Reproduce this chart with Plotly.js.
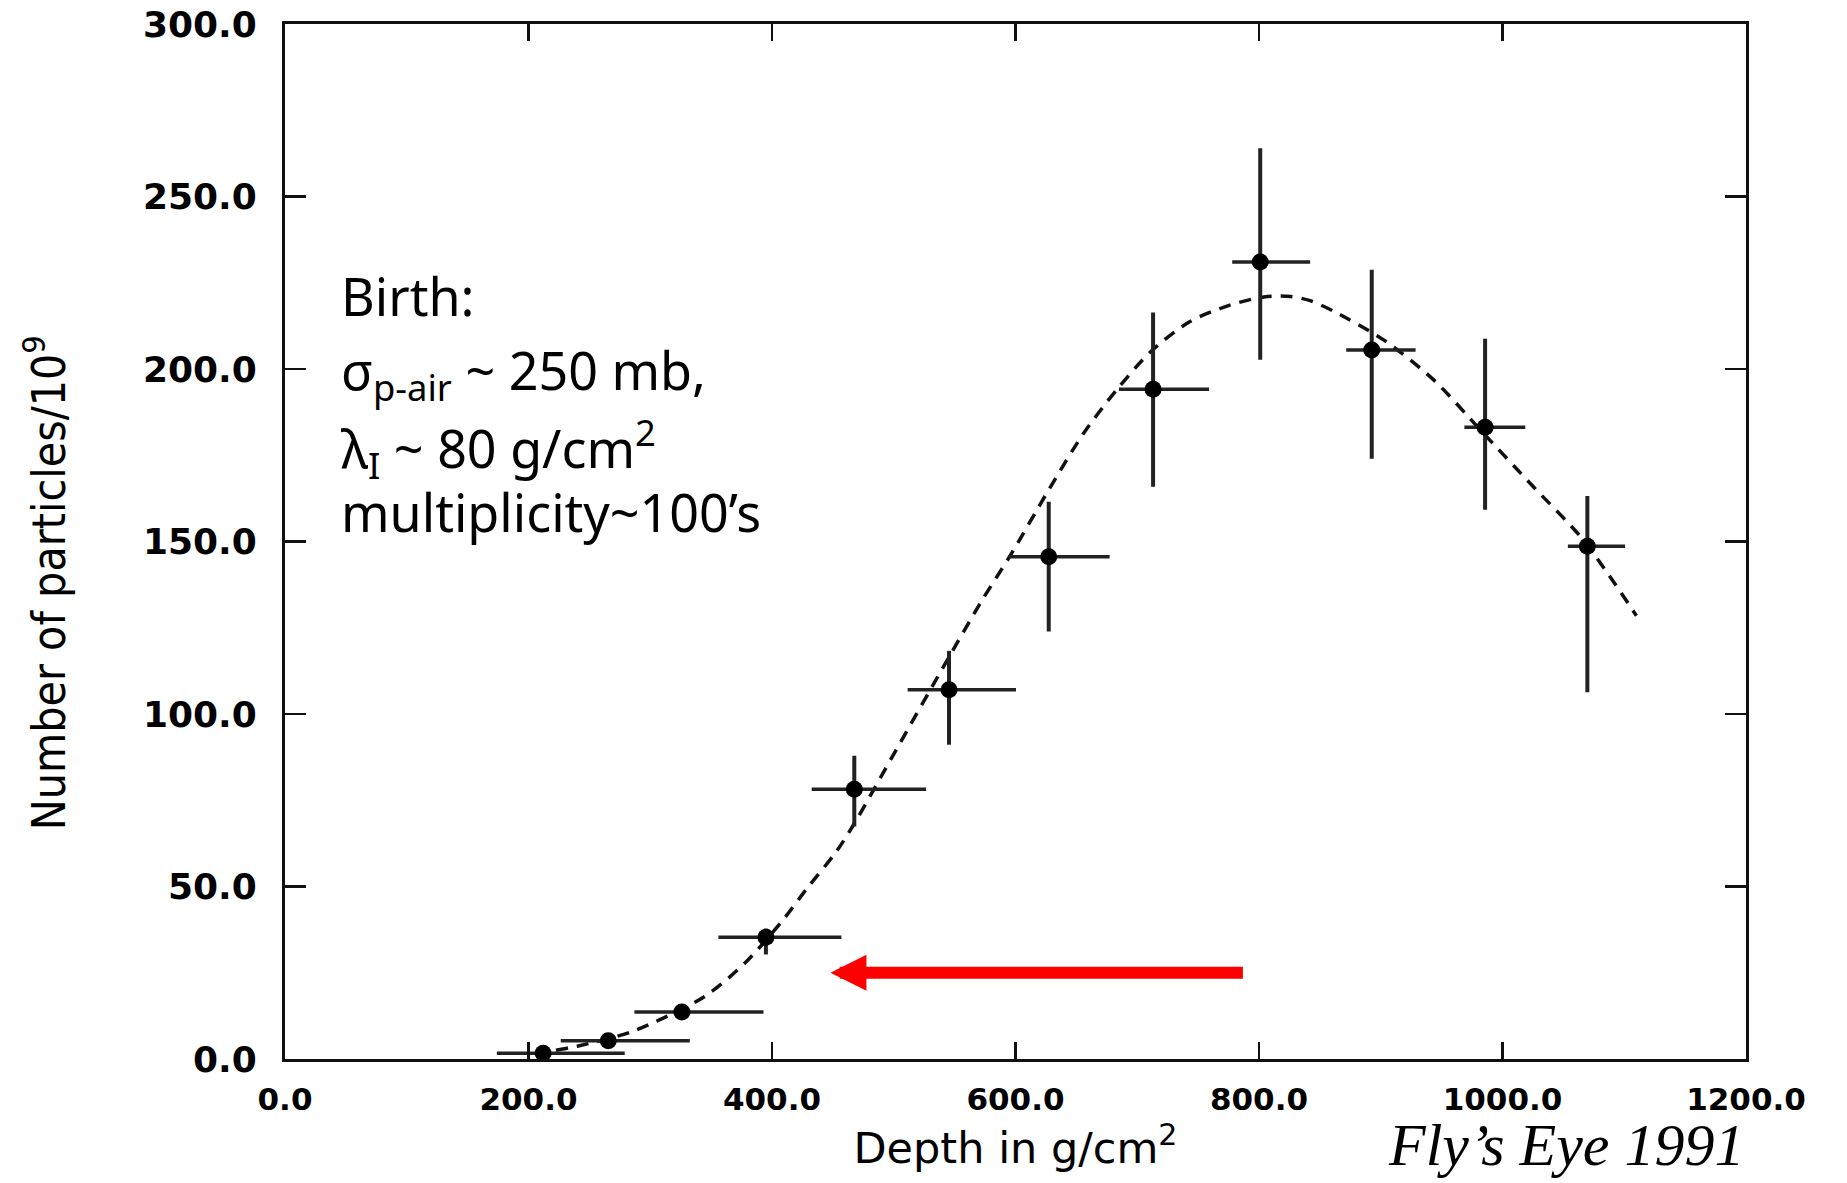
<!DOCTYPE html>
<html>
<head>
<meta charset="utf-8">
<script src="https://cdn.plot.ly/plotly-3.0.1.min.js"></script>
<style>
  html, body { margin: 0; padding: 0; background: #ffffff; }
  #chart { width: 1847px; height: 1183px; }
</style>
</head>
<body>
<div id="chart"></div>
<script>
// Measured data points (Fly's Eye 1991 shower profile)
const depth = [212, 265.5, 326, 395, 467.6, 545.4, 627.3, 713, 801, 892.6, 985.7, 1069.7];
const particles = [1.7, 5.3, 13.6, 35.3, 78.2, 107.0, 145.6, 194.1, 231.0, 205.5, 183.1, 148.6];
const depthErrPlus = [67, 67, 67, 62, 59, 55, 50, 46, 41, 36, 33, 31];
const depthErrMinus = [38, 39, 39, 39, 35, 34, 33, 28, 23, 21, 17, 16];
const partErrPlus = [0.8, 1, 1.5, 2.5, 9.7, 11.3, 15.9, 22.3, 33.0, 23.3, 25.7, 14.6];
const partErrMinus = [0.8, 1, 1.5, 5, 10.8, 15.9, 21.7, 28.2, 28.3, 31.5, 23.9, 42.3];

// Dashed fit curve
const fitDepth = [206, 219, 240, 286, 345, 378, 407, 428, 453, 467, 502, 541, 571, 596, 628, 656, 683, 711, 743, 776, 804, 826, 842, 861, 902, 943, 984, 1025, 1066, 1110];
const fitParticles = [1.0, 2.3, 3.7, 8.1, 18.2, 27.9, 39.4, 49.1, 60.2, 67.9, 89.6, 113.8, 132.1, 146.1, 165.4, 181.4, 193.9, 205.0, 213.7, 218.5, 220.9, 221.0, 219.8, 216.8, 208.5, 197.0, 181.5, 166.0, 150.6, 128.5];

// Red arrow (data coordinates)
const arrowTip = [448, 25];
const arrowTail = [788, 25];

const xTitle = 'Depth in g/cm<sup>2</sup>';
const yTitle = 'Number of particles/10<sup>9</sup>';
const creditText = '<i>Fly’s Eye 1991</i>';

const textLines = [
  "Birth:",
  "σ<sub>p-air</sub> ~ 250 mb,",
  "λ<sub>I</sub> ~ 80 g/cm<sup>2</sup>",
  "multiplicity~100’s"
];
const textLineY = [0.738, 0.663, 0.590, 0.529];

const traces = [
  {
    x: fitDepth, y: fitParticles, type: 'scatter', mode: 'lines',
    line: {color: '#111111', width: 3.5, dash: '12px,9px', shape: 'spline', smoothing: 0.8},
    hoverinfo: 'skip'
  },
  {
    x: depth, y: particles, type: 'scatter', mode: 'markers',
    marker: {color: '#000000', size: 17},
    error_x: {type: 'data', symmetric: false, array: depthErrPlus, arrayminus: depthErrMinus,
              color: '#222222', thickness: 3.5, width: 0},
    error_y: {type: 'data', symmetric: false, array: partErrPlus, arrayminus: partErrMinus,
              color: '#222222', thickness: 4, width: 0}
  }
];

const annotations = textLines.map((t, i) => ({
  xref: 'paper', yref: 'paper', x: 0.037, y: textLineY[i],
  xanchor: 'left', yanchor: 'middle', showarrow: false, text: t,
  font: {family: 'Noto Sans, DejaVu Sans, sans-serif', size: 52, color: '#000000'}
}));

annotations.push({
  x: arrowTip[0], y: arrowTip[1], ax: arrowTail[0], ay: arrowTail[1],
  xref: 'x', yref: 'y', axref: 'x', ayref: 'y',
  text: '', showarrow: true, arrowhead: 2, arrowsize: 0.6, arrowwidth: 12,
  arrowcolor: '#ff0000', standoff: 0, startstandoff: 0
});

// y-axis title placed as rotated text (offset below the plot centre, as in the original)
annotations.push({
  xref: 'paper', yref: 'paper', x: -0.164, y: 0.46,
  xanchor: 'center', yanchor: 'middle', showarrow: false, textangle: -90,
  text: yTitle,
  font: {family: 'Liberation Sans Narrow, DejaVu Sans Condensed, Liberation Sans, sans-serif', size: 46, color: '#000000'}
});

annotations.push({
  xref: 'paper', yref: 'paper', x: 1.0, y: -0.083,
  xanchor: 'right', yanchor: 'middle', showarrow: false,
  text: creditText,
  font: {family: 'Liberation Serif, Times New Roman, serif', size: 60, color: '#000000'}
});

const layout = {
  width: 1847, height: 1183,
  margin: {l: 285, r: 101, t: 24, b: 124, pad: 0},
  paper_bgcolor: '#ffffff', plot_bgcolor: '#ffffff',
  showlegend: false,
  font: {family: 'DejaVu Sans, sans-serif', color: '#000000'},
  xaxis: {
    range: [0, 1200], tick0: 0, dtick: 200, tickformat: '.1f',
    ticks: 'inside', ticklen: 17, tickwidth: 2.5, tickcolor: '#111111',
    showline: true, linewidth: 3, linecolor: '#111111', mirror: 'allticks',
    showgrid: false, zeroline: false, ticklabelstandoff: 11,
    tickfont: {family: 'DejaVu Sans, sans-serif', size: 31, weight: 'bold', color: '#000000'},
    title: {text: xTitle, standoff: 2,
            font: {family: 'DejaVu Sans, sans-serif', size: 43, color: '#000000'}}
  },
  yaxis: {
    range: [0, 300], tick0: 0, dtick: 50, tickformat: '.1f',
    ticks: 'inside', ticklen: 21, tickwidth: 2.5, tickcolor: '#111111',
    showline: true, linewidth: 3, linecolor: '#111111', mirror: 'allticks',
    showgrid: false, zeroline: false, ticklabelstandoff: 18,
    tickfont: {family: 'DejaVu Sans, sans-serif', size: 36, weight: 'bold', color: '#000000'}
  },
  annotations: annotations
};

Plotly.newPlot('chart', traces, layout, {displayModeBar: false, staticPlot: true});
</script>
</body>
</html>
